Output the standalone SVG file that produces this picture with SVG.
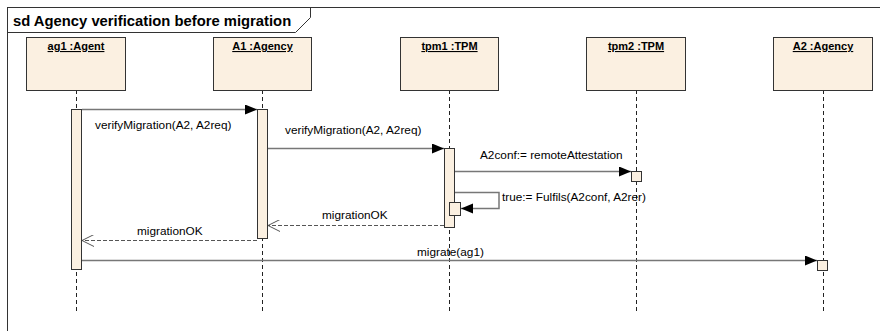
<svg xmlns="http://www.w3.org/2000/svg" width="880" height="331" viewBox="0 0 880 331">
<defs>
<marker id="filled" markerWidth="13" markerHeight="11" refX="12" refY="5" orient="auto" markerUnits="userSpaceOnUse">
<path d="M0,0 L12,5 L0,10 Z" fill="#000"/>
</marker>
<marker id="open" markerWidth="14" markerHeight="12" refX="12" refY="6" orient="auto" markerUnits="userSpaceOnUse">
<path d="M0,0 L12,6 L0,12" fill="none" stroke="#555" stroke-width="1"/>
</marker>
</defs>
<style>
.frame{fill:none;stroke:#333;stroke-width:1}
.title{font-family:"Liberation Sans",Arial,sans-serif;font-weight:bold;font-size:14.8px;fill:#000}
.head{fill:#FBF0E1;stroke:#333;stroke-width:1}
.hlabel{font-family:"Liberation Sans",Arial,sans-serif;font-weight:bold;font-size:11px;fill:#000;text-decoration:underline;text-anchor:middle}
.life{stroke:#222;stroke-width:1;stroke-dasharray:4,3}
.act{fill:#FBF0E1;stroke:#333;stroke-width:1}
.msg{stroke:#777;stroke-width:1.5;fill:none}
.ret{stroke:#555;stroke-width:1;stroke-dasharray:4,2;fill:none}
.lbl{font-family:"Liberation Sans",Arial,sans-serif;font-size:11.8px;fill:#000}
</style>
<rect x="0" y="0" width="880" height="331" fill="#fff"/>
<g id="frame">
<rect class="frame" x="7.5" y="7.5" width="900" height="400"/>
<path class="frame" d="M7.5,32.5 L295.5,32.5 L310.5,17.5 L310.5,7.5"/>
<text class="title" x="13" y="26">sd Agency verification before migration</text>
</g>
<g id="ag1">
<line class="life" x1="76.5" y1="90" x2="76.5" y2="314"/>
<rect class="head" x="26.5" y="37.5" width="99" height="53"/>
<text class="hlabel" x="76" y="50">ag1 :Agent</text>
<rect class="act" x="71.5" y="109.5" width="10" height="160"/>
</g>
<g id="A1">
<line class="life" x1="262.5" y1="90" x2="262.5" y2="314"/>
<rect class="head" x="213.5" y="37.5" width="98" height="53"/>
<text class="hlabel" x="262.5" y="50">A1 :Agency</text>
<rect class="act" x="257.5" y="109.5" width="10" height="129"/>
</g>
<g id="tpm1">
<line class="life" x1="449.5" y1="90" x2="449.5" y2="314"/>
<rect class="head" x="400.5" y="37.5" width="98" height="53"/>
<text class="hlabel" x="449.5" y="50">tpm1 :TPM</text>
<rect class="act" x="444.5" y="148.5" width="10" height="79"/>
<rect class="act" x="449.5" y="202.5" width="11" height="13"/>
</g>
<g id="tpm2">
<line class="life" x1="636.5" y1="90" x2="636.5" y2="314"/>
<rect class="head" x="586.5" y="37.5" width="99" height="53"/>
<text class="hlabel" x="636" y="50">tpm2 :TPM</text>
<rect class="act" x="631.5" y="171.5" width="10" height="10"/>
</g>
<g id="A2">
<line class="life" x1="823.5" y1="90" x2="823.5" y2="314"/>
<rect class="head" x="773.5" y="37.5" width="99" height="53"/>
<text class="hlabel" x="823" y="50">A2 :Agency</text>
<rect class="act" x="817.5" y="260.5" width="10" height="10"/>
</g>
<g id="connectors">
<line class="msg" x1="82" y1="109.5" x2="257" y2="109.5" marker-end="url(#filled)"/>
<text class="lbl" x="95" y="129">verifyMigration(A2, A2req)</text>
<line class="msg" x1="268" y1="148.5" x2="444" y2="148.5" marker-end="url(#filled)"/>
<text class="lbl" x="285" y="134">verifyMigration(A2, A2req)</text>
<line class="msg" x1="455" y1="171.5" x2="631" y2="171.5" marker-end="url(#filled)"/>
<text class="lbl" x="480" y="159">A2conf:= remoteAttestation</text>
<polyline class="msg" points="455,192.5 499,192.5 499,208.5 461,208.5" marker-end="url(#filled)"/>
<text class="lbl" x="502" y="201">true:= Fulfils(A2conf, A2rer)</text>
<line class="ret" x1="444" y1="225.5" x2="268" y2="225.5" marker-end="url(#open)"/>
<text class="lbl" x="322" y="219">migrationOK</text>
<line class="ret" x1="257" y1="240.5" x2="82" y2="240.5" marker-end="url(#open)"/>
<text class="lbl" x="137" y="235">migrationOK</text>
<line class="msg" x1="82" y1="260.5" x2="817" y2="260.5" marker-end="url(#filled)"/>
<text class="lbl" x="417" y="256">migrate(ag1)</text>
</g>
</svg>
